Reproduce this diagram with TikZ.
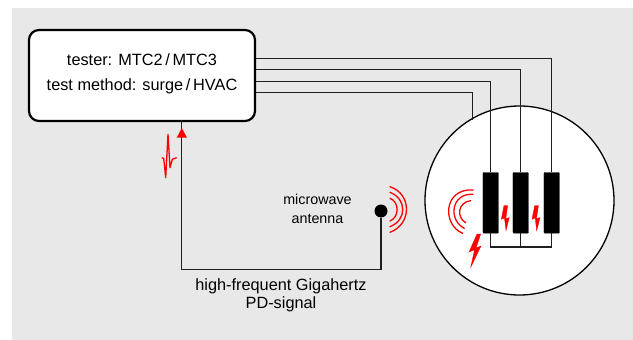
\documentclass[tikz,border=0pt]{standalone}
\usepackage{fontspec}
\setmainfont{Liberation Sans}
\definecolor{bggray}{RGB}{232,232,232}
\tikzset{
  wire/.style={line width=1.3pt,draw=black!88},
  sparkarc/.style={line width=1.3pt,draw=red,line cap=round},
  bolt/.style={fill=red,draw=red,line width=0.3pt},
  barbox/.style={draw=black,fill=black,rounded corners=0.8pt,minimum width=15.5pt,minimum height=60.7pt,inner sep=0pt,anchor=north west},
  lbl/.style={inner sep=0pt,align=center,font=\fontsize{16.3pt}{18pt}\selectfont},
  lblsmall/.style={inner sep=0pt,align=center,font=\fontsize{14.3pt}{16pt}\selectfont}
}
\begin{document}
\begin{tikzpicture}[x=1pt,y=-1pt]
\useasboundingbox (0,0) rectangle (633,340);
\fill[bggray] (12,8) rectangle (633,340);
% stator circle
\node[circle,draw=black,fill=white,line width=1.3pt,minimum size=189pt,inner sep=0pt] (stator) at (519.5,200.5) {};
% tester
\node[draw=black,fill=white,line width=2.2pt,rounded corners=10pt,minimum width=226pt,minimum height=91pt,inner sep=0pt] (tester) at (142,75.5) {};
\node[lbl] (t1) at (142,60) {tester: MTC2\,/\,MTC3};
\node[lbl] (t2) at (142,86) {test method: surge\,/\,HVAC};
% bars
\node[barbox] (bar1) at (482.75,172.3) {};
\node[barbox] (bar2) at (512.75,172.3) {};
\node[barbox] (bar3) at (543.75,172.3) {};
\coordinate (c4) at (472.5,119.5);
% wires
\draw[wire] (tester.east |- 0,58.5) -| (bar3.north);
\draw[wire] (tester.east |- 0,69.5) -| (bar2.north);
\draw[wire] (tester.east |- 0,81.5) -| (bar1.north);
\draw[wire] (tester.east |- 0,92.5) -| (c4);
\draw[wire] (bar1.south) -- ++(0,13.5) -| (bar3.south);
\draw[wire] (bar2.south) -- ++(0,13.5);
% antenna
\node[circle,fill=black,minimum size=13pt,inner sep=0pt] (ant) at (381,211) {};
\coordinate (tip) at (tester.south -| 181.5,0);
\draw[wire] (ant.south) |- (181.5,269.5) -- (tip);
\fill[red] (181.8,128) -- (187,137.7) -- (176.7,137.7) -- cycle;
% signal
\draw[red,line width=1.3pt,line join=round] (161.7,157.7) -- (163.7,158.3) -- (165.7,177.7) -- (168,134.3) -- (170,167.7) -- (172.3,159.3) -- (176.7,157.7);
% antenna arcs
\draw[sparkarc] (390,186.7) .. controls (412,194) and (412,224) .. (390,232.3);
\draw[sparkarc] (390,192.3) .. controls (407,199) and (407,220) .. (390,226.7);
\draw[sparkarc] (390,198.3) .. controls (399.5,202) and (399.5,217) .. (390,221);
% left arcs
\draw[sparkarc] (473.3,190) .. controls (443,188) and (442,225) .. (462.7,233.3);
\draw[sparkarc] (473,194.3) .. controls (451,193) and (448,220) .. (464.3,228.3);
\draw[sparkarc] (470.7,200.7) .. controls (458,202) and (456,217) .. (465.7,222.7);
% bolts
\filldraw[bolt] (477,234) -- (469,252) -- (474.5,249.8) -- (470.7,267.5) -- (481,246) -- (476,248) -- (480.7,234) -- cycle;
\filldraw[bolt] (504,205.5) -- (501.3,219.3) -- (504.5,218) -- (506,230.7) -- (509.3,217.5) -- (505.8,218.7) -- (507.7,205.5) -- cycle;
\filldraw[bolt] (534.7,205.5) -- (532,219.3) -- (535.2,218) -- (536.7,230.7) -- (540,217.5) -- (536.5,218.7) -- (538.4,205.5) -- cycle;
% labels
\node[lblsmall] (mw) at (317.5,209) {microwave\\[2.5pt]antenna};
\node[lbl] (hf) at (281,295) {high-frequent Gigahertz\\[0pt]PD-signal};
\end{tikzpicture}
\end{document}
